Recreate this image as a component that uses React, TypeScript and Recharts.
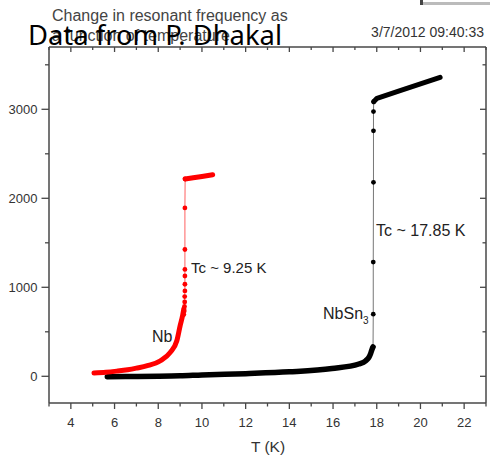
import React from "react";
import { ComposedChart, Line, XAxis, YAxis } from "recharts";

// ---- Data ----
// Nb: smooth low-temperature part
const nbLowT = [5.06, 5.6, 6.1, 6.6, 7.0, 7.5, 8.1, 8.55, 8.85, 9.0, 9.12, 9.17];
const nbLowV = [37, 45, 58, 74, 92, 119, 175, 269, 399, 567, 690, 760];
// Nb: transition points
const nbJumpT = [9.17, 9.19, 9.2, 9.21, 9.21, 9.22, 9.22, 9.22, 9.22, 9.22, 9.22, 9.23];
const nbJumpV = [694, 735, 784, 836, 896, 959, 1034, 1127, 1201, 1425, 1892, 2217];
// Nb: normal-state plateau
const nbTopT = [9.23, 9.6, 10.0, 10.49];
const nbTopV = [2217, 2230, 2245, 2265];

// NbSn3: smooth low-temperature part
const nsLowT = [5.67, 6.5, 8, 9, 10, 12, 14, 15.95, 17.18, 17.5, 17.64, 17.72, 17.78, 17.83];
const nsLowV = [-5, -3, 0, 5, 15, 30, 50, 87, 138, 175, 213, 255, 300, 330];
// NbSn3: transition points
const nsJumpT = [17.83, 17.84, 17.84, 17.85, 17.85, 17.85, 17.86];
const nsJumpV = [330, 698, 1283, 2179, 2758, 2974, 3086];
// NbSn3: normal-state plateau
const nsTopT = [17.86, 18.01, 19, 20, 20.9];
const nsTopV = [3086, 3124, 3205, 3285, 3360];

// Axis ticks
const xDomain = [3, 23];
const yDomain = [-300, 3700];
const xTicks = [3, 4, 5, 6, 7, 8, 9, 10, 11, 12, 13, 14, 15, 16, 17, 18, 19, 20, 21, 22, 23];
const xLabeled = [4, 6, 8, 10, 12, 14, 16, 18, 20, 22];
const yTicks = [0, 500, 1000, 1500, 2000, 2500, 3000, 3500];
const yLabeled = [0, 1000, 2000, 3000];

const zip = (ts: number[], vs: number[]) => ts.map((t, i) => ({ t, v: vs[i] }));

const nbLow = zip(nbLowT, nbLowV);
const nbJump = zip(nbJumpT, nbJumpV);
const nbTop = zip(nbTopT, nbTopV);
const nsLow = zip(nsLowT, nsLowV);
const nsJump = zip(nsJumpT, nsJumpV);
const nsTop = zip(nsTopT, nsTopV);

// layout
const W = 490;
const H = 455;
const M = { top: 47, right: 4, bottom: 0, left: 0 };
const Y_AXIS_W = 49;
const X_AXIS_H = 52;
const PLOT_X = M.left + Y_AXIS_W; // 49
const PLOT_Y = M.top; // 47
const PLOT_W = W - M.left - M.right - Y_AXIS_W; // 437
const PLOT_H = H - M.top - M.bottom - X_AXIS_H; // 356

// same linear mapping as the chart's axes, used only for the mirrored frame ticks
const fx = (t: number) => PLOT_X + ((t - xDomain[0]) / (xDomain[1] - xDomain[0])) * PLOT_W;
const fy = (v: number) => PLOT_Y + ((yDomain[1] - v) / (yDomain[1] - yDomain[0])) * PLOT_H;

const AX = "#474747";
const FONT = "'Liberation Sans', Arial, sans-serif";

const BottomTick = (props: any) => {
  const { x, y, payload } = props;
  const v = payload.value;
  const major = xLabeled.includes(v);
  return (
    <g>
      <line x1={x} x2={x} y1={y} y2={y + (major ? 6 : 3.5)} stroke={AX} strokeWidth={1.3} />
      {major && (
        <text x={x} y={y + 23.5} textAnchor="middle" fontSize={13} fill="#333" fontFamily={FONT}>
          {v}
        </text>
      )}
    </g>
  );
};

const LeftTick = (props: any) => {
  const { x, y, payload } = props;
  const v = payload.value;
  const major = yLabeled.includes(v);
  return (
    <g>
      <line x1={x - (major ? 7.5 : 4)} x2={x} y1={y} y2={y} stroke={AX} strokeWidth={1.3} />
      {major && (
        <text x={x - 11.5} y={y + 4.7} textAnchor="end" fontSize={13} fill="#333" fontFamily={FONT}>
          {v}
        </text>
      )}
    </g>
  );
};

export default function App() {
  return (
    <div style={{ position: "absolute", left: 0, top: 0, width: W, height: H, background: "#fff" }}>
      <ComposedChart width={W} height={H} margin={M}>
        <XAxis
          type="number"
          dataKey="t"
          domain={xDomain}
          ticks={xTicks}
          interval={0}
          allowDataOverflow
          height={X_AXIS_H}
          tickSize={0}
          tickMargin={0}
          tick={<BottomTick />}
          axisLine={{ stroke: AX, strokeWidth: 1.5 }}
        />
        <YAxis
          type="number"
          domain={yDomain}
          ticks={yTicks}
          interval={0}
          allowDataOverflow
          width={Y_AXIS_W}
          tickSize={0}
          tickMargin={0}
          tick={<LeftTick />}
          axisLine={{ stroke: AX, strokeWidth: 1.5 }}
        />

        {/* NbSn3 */}
        <Line data={nsJump} dataKey="v" type="linear" stroke="#777" strokeWidth={1}
          dot={{ r: 2.4, fill: "#000", stroke: "none" }} isAnimationActive={false} />
        <Line data={nsLow} dataKey="v" type="monotone" stroke="#000" strokeWidth={5.5}
          strokeLinecap="round" dot={false} isAnimationActive={false} />
        <Line data={nsTop} dataKey="v" type="linear" stroke="#000" strokeWidth={5}
          strokeLinecap="round" strokeLinejoin="round" dot={false} isAnimationActive={false} />

        {/* Nb */}
        <Line data={nbJump} dataKey="v" type="linear" stroke="#ff6060" strokeWidth={1}
          dot={{ r: 2.4, fill: "#ff0000", stroke: "none" }} isAnimationActive={false} />
        <Line data={nbLow} dataKey="v" type="monotone" stroke="#ff0000" strokeWidth={5}
          strokeLinecap="round" dot={false} isAnimationActive={false} />
        <Line data={nbTop} dataKey="v" type="linear" stroke="#ff0000" strokeWidth={5}
          strokeLinecap="round" dot={false} isAnimationActive={false} />
      </ComposedChart>

      <svg width={W} height={H} style={{ position: "absolute", left: 0, top: 0, pointerEvents: "none" }}>
        {/* mirrored top / right frame with inward ticks */}
        <line x1={PLOT_X} x2={PLOT_X + PLOT_W} y1={PLOT_Y} y2={PLOT_Y} stroke={AX} strokeWidth={1.5} />
        <line x1={PLOT_X + PLOT_W} x2={PLOT_X + PLOT_W} y1={PLOT_Y} y2={PLOT_Y + PLOT_H} stroke={AX} strokeWidth={1.5} />
        {xTicks.map((t) => (
          <line key={"tt" + t} x1={fx(t)} x2={fx(t)} y1={PLOT_Y} y2={PLOT_Y + (xLabeled.includes(t) ? 5 : 3)}
            stroke={AX} strokeWidth={1.3} />
        ))}
        {yTicks.map((v) => (
          <line key={"rt" + v} x1={PLOT_X + PLOT_W - (yLabeled.includes(v) ? 6 : 3.5)} x2={PLOT_X + PLOT_W}
            y1={fy(v)} y2={fy(v)} stroke={AX} strokeWidth={1.3} />
        ))}

        <rect x={420} y={2} width={70} height={3} fill="#bbb" />
        <rect x={420} y={0} width={3} height={5} fill="#444" />
        <text x={52} y={21} fontSize={16} fill="#444" fontFamily={FONT}>Change in resonant frequency as</text>
        <text x={52} y={41} fontSize={16} fill="#444" fontFamily={FONT}>a function of temperature</text>
        <text x={28} y={45} fontSize={27} fill="#000" fontFamily="'Noto Sans', sans-serif" textLength={254} lengthAdjust="spacingAndGlyphs">Data from P. Dhakal</text>
        <text x={484} y={37} fontSize={14} fill="#333" textAnchor="end" fontFamily={FONT}>3/7/2012 09:40:33</text>

        <text x={152} y={342} fontSize={16} fill="#222" fontFamily={FONT}>Nb</text>
        <text x={191} y={273} fontSize={15} fill="#222" fontFamily={FONT}>Tc ~ 9.25 K</text>
        <text x={376} y={236} fontSize={16} fill="#222" fontFamily={FONT}>Tc ~ 17.85 K</text>
        <text x={323} y={319} fontSize={16} fill="#222" fontFamily={FONT}>
          NbSn<tspan fontSize={10} dy={5}>3</tspan>
        </text>

        <text x={268} y={452} fontSize={15.5} fill="#333" textAnchor="middle" fontFamily={FONT}>T (K)</text>
      </svg>
    </div>
  );
}
